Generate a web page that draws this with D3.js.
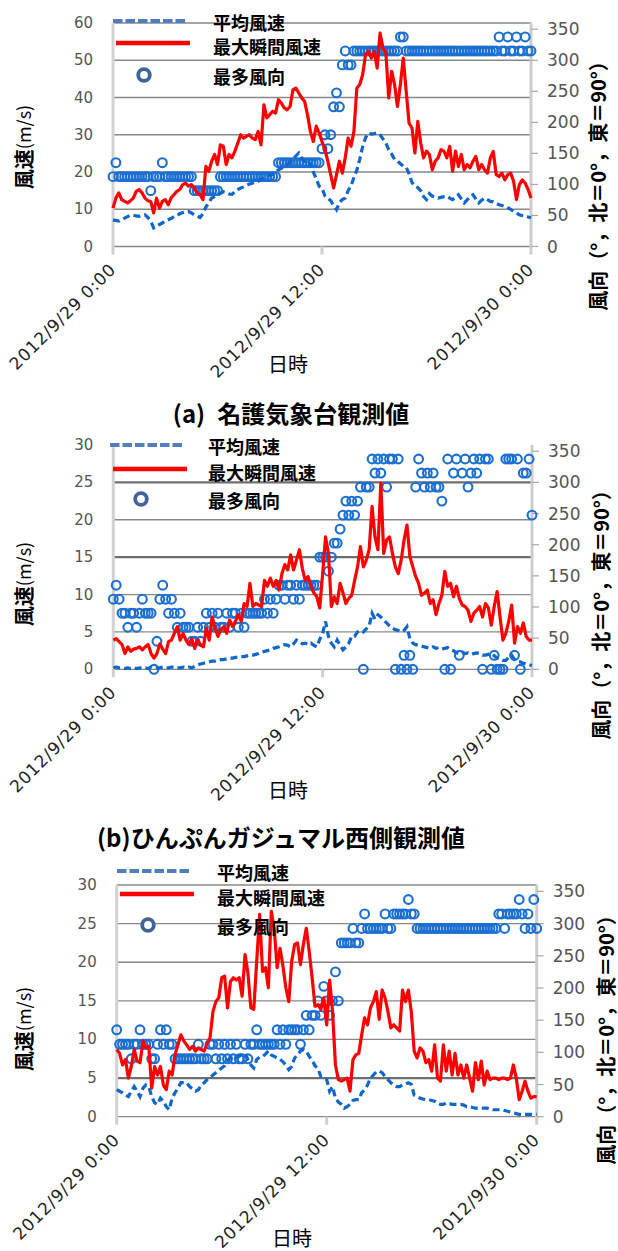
<!DOCTYPE html>
<html>
<head>
<meta charset="utf-8">
<script src="https://cdn.jsdelivr.net/npm/d3@7"></script>
<style>
  html, body { margin: 0; padding: 0; background: #fff; }
  svg { display: block; }
</style>
</head>
<body>
<svg id="chart" width="618" height="1251"></svg>
<script>
// 10-minute observations from 2012/9/29 0:00 to 2012/9/30 0:00
const startTime = new Date(2012, 8, 29, 0, 0);
const stepMinutes = 10;
const pointCount = 145;
const times = d3.range(pointCount).map(i => new Date(startTime.getTime() + i * stepMinutes * 60000));

const timeTicks = [new Date(2012, 8, 29, 0, 0), new Date(2012, 8, 29, 12, 0), new Date(2012, 8, 30, 0, 0)];
const timeTickLabels = ["2012/9/29 0:00", "2012/9/29 12:00", "2012/9/30 0:00"];
const dirTicks = [0, 50, 100, 150, 200, 250, 300, 350];
const seriesNames = ["平均風速", "最大瞬間風速", "最多風向"];

// (a) Nago meteorological observatory
const nagoMean = [
  7.1, 7.0, 6.8, 7.2, 7.6, 8.0, 8.4, 8.4, 8.2, 8.1,
  8.3, 8.5, 7.8, 6.8, 5.0, 5.5, 5.9, 6.3, 6.9, 7.2,
  7.5, 8.0, 8.3, 8.8, 9.1, 9.3, 9.4, 9.0, 8.5, 8.2,
  7.8, 8.8, 10.6, 11.8, 13.0, 13.4, 13.8, 14.3, 14.7, 14.5,
  14.1, 14.0, 14.8, 15.3, 15.7, 16.0, 16.4, 16.8, 17.0, 17.3,
  17.5, 18.0, 18.4, 18.8, 19.2, 19.4, 20.0, 20.6, 21.0, 21.5,
  22.0, 22.6, 23.4, 24.3, 25.1, 23.8, 22.9, 23.4, 21.8, 20.0,
  18.2, 16.2, 15.7, 13.6, 12.9, 12.3, 11.0, 9.9, 11.8, 12.6,
  13.0, 15.0, 16.3, 18.5, 20.5, 23.4, 26.8, 29.2, 30.5, 30.2,
  30.3, 30.5, 30.0, 28.9, 27.8, 26.0, 24.8, 23.4, 23.0, 22.2,
  21.6, 21.3, 19.5, 17.2, 16.2, 15.8, 15.0, 13.4, 12.6, 14.2,
  13.5, 13.3, 13.0, 13.2, 13.4, 13.5, 13.0, 12.6, 13.2, 13.9,
  12.8, 11.7, 12.5, 13.4, 13.9, 12.8, 11.7, 12.4, 13.0, 12.6,
  12.1, 12.0, 11.6, 11.2, 11.0, 10.8, 10.4, 10.0, 9.4, 9.0,
  8.5, 8.3, 8.1, 7.9, 7.7
];
const nagoMax = [
  10.3, 13.0, 14.4, 12.6, 12.1, 11.7, 12.3, 13.0, 14.8, 15.3,
  14.4, 13.0, 12.3, 12.1, 9.0, 13.0, 10.3, 12.1, 12.6, 11.2,
  13.0, 13.9, 14.8, 15.3, 16.6, 17.0, 16.2, 16.6, 15.7, 14.4,
  13.9, 12.6, 21.5, 20.2, 22.9, 24.7, 22.0, 27.3, 26.9, 22.0,
  24.7, 23.8, 25.6, 27.8, 30.0, 29.1, 29.6, 30.0, 29.1, 28.7,
  30.9, 27.3, 38.0, 34.5, 35.4, 36.3, 35.8, 39.4, 38.5, 37.2,
  36.7, 37.6, 42.1, 42.5, 41.2, 39.9, 39.0, 35.4, 30.9, 28.2,
  32.3, 30.5, 28.2, 26.0, 22.9, 19.3, 15.7, 19.3, 22.9, 19.7,
  23.8, 29.1, 26.9, 30.9, 42.5, 43.5, 46.1, 51.5, 52.4, 50.6,
  52.4, 47.9, 57.3, 53.3, 52.0, 39.9, 47.0, 43.5, 37.6, 43.5,
  50.6, 41.7, 33.1, 31.8, 25.1, 33.6, 27.8, 23.8, 25.6, 24.7,
  20.6, 22.9, 23.8, 26.0, 25.6, 23.8, 26.9, 20.2, 25.6, 21.5,
  24.7, 20.6, 22.0, 21.1, 22.9, 24.2, 20.6, 22.0, 20.6, 19.7,
  23.8, 25.5, 19.3, 18.8, 19.7, 17.9, 19.3, 19.7, 17.5, 12.6,
  16.6, 17.9, 17.0, 15.3, 13.0
];
const nagoDir = [
  112.5, 135, 112.5, 112.5, 112.5, 112.5, 112.5, 112.5, 112.5, 112.5,
  112.5, 112.5, 112.5, 90, 112.5, 112.5, 112.5, 135, 112.5, 112.5,
  112.5, 112.5, 112.5, 112.5, 112.5, 112.5, 112.5, 112.5, 90, 90,
  90, 90, 90, 90, 90, 90, 90, 112.5, 112.5, 112.5,
  112.5, 112.5, 112.5, 112.5, 112.5, 112.5, 112.5, 112.5, 112.5, 112.5,
  112.5, 112.5, 112.5, 112.5, 112.5, 112.5, 112.5, 135, 135, 135,
  135, 135, 135, 135, 135, 135, 135, 135, 135, 135,
  135, 135, 157.5, 180, 157.5, 180, 225, 247.5, 225, 292.5,
  315, 292.5, 292.5, 315, 315, 315, 315, 315, 315, 315,
  315, 315, 315, 315, 315, 315, 315, 315, 315, 337.5,
  337.5, 315, 315, 315, 315, 315, 315, 315, 315, 315,
  315, 315, 315, 315, 315, 315, 315, 315, 315, 315,
  315, 315, 315, 315, 315, 315, 315, 315, 315, 315,
  315, 315, 315, 337.5, 315, 315, 337.5, 315, 315, 337.5,
  315, 315, 337.5, 315, 315
];

// (b) west side of the Hinpun banyan
const hinpunMean = [
  0.2, 0.3, 0.2, 0.2, 0.1, 0.2, 0.1, 0.2, 0.1, 0.2,
  0.1, 0.2, 0.1, 0.3, 0.2, 0.2, 0.2, 0.3, 0.2, 0.2,
  0.3, 0.3, 0.2, 0.2, 0.3, 0.2, 0.3, 0.2, 0.4, 0.6,
  0.7, 0.8, 0.9, 1.0, 1.1, 1.1, 1.2, 1.3, 1.3, 1.4,
  1.5, 1.5, 1.6, 1.6, 1.7, 1.7, 1.8, 1.9, 1.9, 2.0,
  2.1, 2.3, 2.4, 2.5, 2.6, 2.8, 2.9, 3.0, 3.2, 3.3,
  3.2, 3.0, 3.4, 3.9, 3.7, 3.4, 3.5, 3.3, 3.5, 3.2,
  3.0, 4.0, 4.8, 6.4, 4.4, 3.5, 3.0, 3.9, 3.2, 2.6,
  3.0, 3.5, 4.4, 4.4, 5.0, 5.2, 5.0, 5.4, 5.8, 7.5,
  6.7, 7.3, 7.0, 6.6, 6.2, 5.8, 5.5, 5.3, 5.2, 5.0,
  5.2, 5.7, 4.1, 3.5, 3.3, 3.2, 3.1, 3.0, 2.9, 2.8,
  3.0, 2.8, 2.9, 2.7, 2.8, 2.9, 2.6, 2.5, 2.2, 2.1,
  2.3, 2.1, 2.2, 2.0, 2.1, 2.2, 2.1, 1.9, 1.9, 2.0,
  2.1, 1.8, 1.5, 1.4, 1.2, 1.2, 1.6, 1.9, 1.3, 1.0,
  1.0, 0.8, 0.7, 0.6, 0.5
];
const hinpunMax = [
  3.9, 4.1, 3.7, 3.3, 2.1, 3.0, 2.4, 2.7, 2.8, 3.0,
  2.6, 3.0, 3.3, 2.1, 1.5, 2.1, 3.4, 2.7, 2.1, 3.7,
  3.9, 4.8, 5.7, 3.9, 4.8, 3.9, 3.3, 4.1, 2.8, 3.9,
  3.3, 3.0, 5.5, 3.9, 7.0, 5.5, 4.4, 5.3, 5.7, 4.8,
  6.6, 5.7, 6.4, 7.3, 6.4, 8.8, 8.4, 11.5, 8.4, 8.8,
  8.6, 8.4, 11.9, 11.1, 12.2, 11.1, 11.9, 10.6, 12.8, 14.0,
  13.3, 15.3, 13.3, 14.6, 16.0, 13.5, 11.9, 12.4, 11.1, 10.2,
  9.7, 8.2, 12.8, 17.7, 15.5, 8.4, 9.7, 8.8, 11.5, 10.2,
  8.8, 9.5, 9.9, 11.9, 13.7, 16.4, 13.7, 14.6, 16.0, 21.8,
  17.7, 16.0, 24.9, 15.5, 17.3, 17.7, 15.5, 13.7, 12.8, 14.6,
  17.3, 19.3, 15.1, 13.7, 12.4, 11.5, 9.9, 10.2, 10.6, 8.8,
  9.3, 7.3, 8.8, 9.9, 13.1, 11.1, 11.5, 9.7, 11.1, 9.5,
  8.6, 8.4, 7.9, 6.4, 7.5, 7.9, 8.4, 7.0, 8.8, 8.2,
  5.9, 8.4, 10.4, 7.0, 3.9, 4.8, 6.4, 8.6, 3.5, 5.7,
  4.8, 6.2, 4.4, 3.9, 3.9
];
const hinpunDir = [
  112.5, 135, 112.5, 90, 90, 67.5, 90, 90, 67.5, 90,
  112.5, 90, 90, 90, 0, 45, 112.5, 135, 112.5, 90,
  112.5, 90, 67.5, 90, 67.5, 67.5, 67.5, 45, 45, 67.5,
  45, 67.5, 90, 67.5, 90, 67.5, 90, 67.5, 67.5, 90,
  67.5, 90, 90, 67.5, 90, 67.5, 90, 90, 90, 90,
  90, 90, 112.5, 90, 112.5, 90, 112.5, 135, 135, 112.5,
  135, 135, 112.5, 135, 112.5, 135, 135, 135, 135, 135,
  135, 180, 180, 180, 157.5, 180, 202.5, 202.5, 225, 247.5,
  270, 247.5, 270, 247.5, 270, 292.5, 0, 292.5, 292.5, 337.5,
  315, 337.5, 315, 337.5, 292.5, 337.5, 337.5, 0, 337.5, 0,
  22.5, 0, 22.5, 0, 292.5, 337.5, 315, 292.5, 315, 292.5,
  315, 292.5, 292.5, 270, 0, 337.5, 0, 315, 337.5, 22.5,
  315, 337.5, 292.5, 315, 337.5, 315, 337.5, 0, 337.5, 337.5,
  0, 22.5, 0, 0, 0, 337.5, 337.5, 337.5, 22.5, 337.5,
  0, 315, 315, 337.5, 247.5
];

// third station
const thirdMean = [
  3.5, 3.3, 3.1, 2.8, 2.6, 3.3, 3.9, 3.3, 2.6, 3.7,
  4.1, 3.9, 2.6, 1.8, 1.6, 2.4, 2.0, 1.3, 0.9, 2.4,
  3.1, 3.7, 4.4, 4.4, 4.4, 3.9, 3.6, 3.3, 3.5, 4.1,
  4.4, 4.8, 5.0, 5.4, 5.7, 6.0, 6.3, 6.6, 7.3, 7.6,
  7.6, 7.6, 7.8, 8.1, 8.2, 7.4, 6.7, 6.3, 7.4, 7.7,
  7.8, 8.1, 8.5, 8.0, 7.8, 7.6, 7.4, 7.1, 6.7, 6.1,
  6.5, 7.6, 8.0, 8.5, 8.7, 8.5, 7.8, 7.3, 6.6, 6.2,
  5.2, 5.0, 4.8, 3.3, 3.9, 2.4, 1.9, 1.6, 1.1, 1.3,
  1.6, 2.1, 2.2, 2.2, 3.1, 3.5, 4.1, 5.0, 5.4, 5.8,
  5.9, 5.7, 5.2, 4.8, 4.4, 4.1, 3.9, 3.9, 4.1, 4.2,
  4.4, 4.2, 2.8, 2.6, 2.4, 2.3, 2.2, 2.2, 2.1, 2.0,
  1.7, 1.6, 1.6, 1.8, 1.7, 1.6, 1.6, 1.6, 1.6, 1.5,
  1.3, 1.3, 1.2, 1.1, 1.1, 1.1, 1.1, 1.1, 1.0, 0.9,
  0.9, 0.9, 0.9, 0.8, 0.7, 0.6, 0.5, 0.4, 0.3, 0.3,
  0.3, 0.3, 0.3, 0.3, 0.3
];
const thirdMax = [
  8.7, 8.2, 6.7, 7.4, 5.0, 6.5, 8.7, 7.2, 7.0, 9.8,
  8.9, 9.1, 3.7, 6.5, 5.4, 6.5, 4.1, 3.5, 5.9, 5.4,
  8.0, 9.3, 10.6, 9.8, 9.3, 8.7, 9.1, 8.5, 8.9, 8.7,
  8.5, 9.5, 10.2, 13.6, 14.9, 15.4, 18.0, 18.2, 14.1, 17.5,
  18.0, 17.7, 18.0, 15.6, 21.0, 18.6, 14.1, 13.9, 20.1, 26.2,
  18.8, 19.3, 16.7, 26.6, 24.4, 19.3, 21.8, 19.5, 16.7, 14.9,
  20.1, 22.3, 22.5, 19.7, 22.3, 24.4, 21.4, 18.0, 14.3, 14.5,
  13.9, 15.4, 11.9, 17.7, 13.6, 6.7, 4.8, 4.6, 4.8, 5.0,
  3.3, 7.4, 8.0, 8.2, 10.6, 12.8, 11.9, 14.1, 14.9, 16.2,
  12.6, 16.4, 15.4, 13.6, 11.5, 11.9, 11.5, 11.1, 16.4, 14.9,
  16.4, 13.6, 8.5, 7.6, 8.9, 8.5, 7.0, 7.4, 5.9, 9.3,
  5.0, 4.6, 9.3, 5.9, 8.5, 5.4, 8.2, 5.4, 6.7, 5.0,
  6.7, 5.0, 3.3, 7.0, 4.8, 7.2, 4.1, 5.9, 4.8, 5.0,
  5.0, 4.8, 5.0, 5.0, 4.8, 5.0, 6.7, 5.0, 2.2, 3.3,
  4.6, 3.3, 2.4, 2.6, 2.6
];
const thirdDir = [
  135, 112.5, 112.5, 112.5, 112.5, 90, 112.5, 112.5, 135, 112.5,
  112.5, 112.5, 90, 90, 112.5, 135, 112.5, 135, 112.5, 112.5,
  90, 90, 90, 90, 90, 90, 90, 90, 112.5, 90,
  90, 90, 112.5, 112.5, 90, 112.5, 90, 112.5, 90, 112.5,
  90, 112.5, 90, 90, 112.5, 90, 112.5, 112.5, 135, 112.5,
  112.5, 112.5, 112.5, 112.5, 112.5, 135, 112.5, 135, 112.5, 135,
  135, 135, 135, 112.5, 135, 157.5, 135, 157.5, 157.5, 180,
  157.5, 202.5, 180, 157.5, 180, 225, 180, 270, 270, 270,
  270, 292.5, 270, 270, 292.5, 315, 292.5, 292.5, 292.5, 292.5,
  292.5, 292.5, 315, 292.5, 292.5, 315, 315, 315, 315, 315,
  337.5, 315, 315, 292.5, 292.5, 292.5, 292.5, 292.5, 292.5, 292.5,
  292.5, 292.5, 292.5, 292.5, 292.5, 292.5, 292.5, 292.5, 292.5, 292.5,
  292.5, 292.5, 292.5, 292.5, 292.5, 292.5, 292.5, 292.5, 292.5, 292.5,
  292.5, 315, 315, 292.5, 315, 315, 315, 315, 337.5, 315,
  292.5, 315, 292.5, 337.5, 292.5
];

// layout of each panel
const panels = [
  {
    left: 113, right: 531, top: 23, bottom: 246.5,
    speedMax: 60, speedStep: 10, strongGrid: [],
    mean: nagoMean, max: nagoMax, dir: nagoDir,
    legend: { x: 113, y: [21, 43, 75], textX: 213 },
    speedTitle: [23, 147], dirTitle: [597, 181], timeTitle: [288, 363],
    caption: { x: 291, y: 412, parts: ["(a)", "名護気象台観測値"], gap: 12 }
  },
  {
    left: 113.3, right: 532, top: 445, bottom: 669.3,
    speedMax: 30, speedStep: 5, strongGrid: [25, 15], noTopGrid: true,
    mean: hinpunMean, max: hinpunMax, dir: hinpunDir,
    legend: { x: 110, y: [445, 469, 499], textX: 208 },
    speedTitle: [23, 584], dirTitle: [600, 610], timeTitle: [288, 789],
    caption: { x: 281, y: 836, parts: ["(b)ひんぷんガジュマル西側観測値"], gap: 0 }
  },
  {
    left: 116.7, right: 536.7, top: 885, bottom: 1116.7,
    speedMax: 30, speedStep: 5, strongGrid: [5],
    mean: thirdMean, max: thirdMax, dir: thirdDir,
    legend: { x: 117, y: [871, 894, 925], textX: 217 },
    speedTitle: [23, 1029], dirTitle: [605, 1035], timeTitle: [292, 1237],
    caption: null
  }
];

const CJK = "'Noto Sans CJK JP', 'Noto Sans CJK SC', sans-serif";
const NUM = "'DejaVu Sans', 'Liberation Sans', sans-serif";
const meanColor = "#0f67cc";
const maxColor = "#ff0000";
const dirColor = "#1b6fd2";

const svg = d3.select("#chart");

panels.forEach(p => {
  const g = svg.append("g");
  const x = d3.scaleTime().domain([timeTicks[0], timeTicks[2]]).range([p.left, p.right]);
  const ySpeed = d3.scaleLinear().domain([0, p.speedMax]).range([p.bottom, p.top]);
  const yDir = d3.scaleLinear().domain([0, 360]).range([p.bottom, p.top]);
  const speedTicks = d3.range(0, p.speedMax + 0.001, p.speedStep);

  // horizontal gridlines on the speed axis
  g.append("g").selectAll("line")
    .data(speedTicks.filter(v => !(p.noTopGrid && v === p.speedMax)))
    .join("line")
    .attr("x1", p.left).attr("x2", p.right)
    .attr("y1", d => ySpeed(d)).attr("y2", d => ySpeed(d))
    .attr("stroke", d => p.strongGrid.includes(d) ? "#6e6e6e" : "#888")
    .attr("stroke-width", d => p.strongGrid.includes(d) ? 2.2 : 1.3);

  // axis lines
  g.append("line").attr("x1", p.left).attr("x2", p.left)
    .attr("y1", p.top).attr("y2", p.bottom + 1)
    .attr("stroke", "#d2d2d2").attr("stroke-width", 3);
  g.append("line").attr("x1", p.right).attr("x2", p.right)
    .attr("y1", p.top).attr("y2", p.bottom + 1)
    .attr("stroke", "#cdcdcd").attr("stroke-width", 3);

  // time ticks
  g.append("g").selectAll("line").data(timeTicks).join("line")
    .attr("x1", d => x(d)).attr("x2", d => x(d))
    .attr("y1", p.bottom).attr("y2", p.bottom + 8)
    .attr("stroke", "#cfcfcf").attr("stroke-width", 3);

  // direction axis ticks
  g.append("g").selectAll("line").data(dirTicks).join("line")
    .attr("x1", p.right).attr("x2", p.right + 7)
    .attr("y1", d => yDir(d)).attr("y2", d => yDir(d))
    .attr("stroke", "#a8a8a8").attr("stroke-width", 1.2);

  // speed tick labels
  g.append("g").selectAll("text").data(speedTicks).join("text")
    .attr("x", p.left - 20).attr("y", d => ySpeed(d))
    .attr("text-anchor", "end").attr("dominant-baseline", "central")
    .attr("font-family", NUM).attr("font-size", 15).attr("fill", "#555")
    .text(d => d);

  // direction tick labels
  g.append("g").selectAll("text").data(dirTicks).join("text")
    .attr("x", p.right + 16).attr("y", d => yDir(d))
    .attr("text-anchor", "start").attr("dominant-baseline", "central")
    .attr("font-family", NUM).attr("font-size", 17).attr("fill", "#555")
    .text(d => d);

  // time tick labels, slanted
  g.append("g").selectAll("text").data(timeTicks).join("text")
    .attr("transform", d => `translate(${x(d) + 4},${p.bottom + 24}) rotate(-45)`)
    .attr("text-anchor", "end")
    .attr("font-family", NUM).attr("font-size", 17).attr("letter-spacing", 0.8)
    .attr("fill", "#222")
    .text((d, i) => timeTickLabels[i]);

  // most frequent wind direction
  g.append("g").selectAll("circle").data(p.dir).join("circle")
    .attr("cx", (d, i) => x(times[i])).attr("cy", d => yDir(d))
    .attr("r", 4.4).attr("fill", "none")
    .attr("stroke", dirColor).attr("stroke-width", 2.1);

  // mean wind speed
  g.append("path").datum(p.mean)
    .attr("d", d3.line().x((d, i) => x(times[i])).y(d => ySpeed(d)))
    .attr("fill", "none").attr("stroke", meanColor)
    .attr("stroke-width", 3.2).attr("stroke-dasharray", "7,4");

  // maximum gust speed
  g.append("path").datum(p.max)
    .attr("d", d3.line().x((d, i) => x(times[i])).y(d => ySpeed(d)))
    .attr("fill", "none").attr("stroke", maxColor)
    .attr("stroke-width", 3.2).attr("stroke-linejoin", "round");

  // legend
  const L = p.legend;
  g.append("line").attr("x1", L.x).attr("x2", L.x + 75)
    .attr("y1", L.y[0]).attr("y2", L.y[0])
    .attr("stroke", "#4f7fc0").attr("stroke-width", 4).attr("stroke-dasharray", "9.5,3");
  g.append("line").attr("x1", L.x + 3).attr("x2", L.x + 77)
    .attr("y1", L.y[1]).attr("y2", L.y[1])
    .attr("stroke", maxColor).attr("stroke-width", 4.5);
  g.append("circle").attr("cx", L.x + 31).attr("cy", L.y[2]).attr("r", 5.8)
    .attr("fill", "#fff").attr("stroke", "#3e6595").attr("stroke-width", 3.8);
  g.append("g").selectAll("text").data(seriesNames).join("text")
    .attr("x", L.textX).attr("y", (d, i) => L.y[i] + (i === 1 ? 3 : 1))
    .attr("dominant-baseline", "central")
    .attr("font-family", CJK).attr("font-weight", "bold").attr("font-size", 18)
    .attr("fill", "#000")
    .text(d => d);

  // speed axis title
  const st = g.append("text")
    .attr("transform", `translate(${p.speedTitle[0]},${p.speedTitle[1]}) rotate(-90)`)
    .attr("text-anchor", "middle").attr("dominant-baseline", "central")
    .attr("font-family", CJK).attr("fill", "#000");
  st.append("tspan").attr("font-weight", "bold").attr("font-size", 20).text("風速");
  st.append("tspan").attr("font-size", 18).text("(m/s)");

  // direction axis title
  g.append("text")
    .attr("transform", `translate(${p.dirTitle[0]},${p.dirTitle[1]}) rotate(-90)`)
    .attr("text-anchor", "middle").attr("dominant-baseline", "central")
    .attr("font-family", CJK).attr("font-weight", "bold").attr("font-size", 20)
    .attr("fill", "#000")
    .text("風向（°，北＝0°，東＝90°）");

  // time axis title
  g.append("text")
    .attr("x", p.timeTitle[0]).attr("y", p.timeTitle[1])
    .attr("text-anchor", "middle").attr("dominant-baseline", "central")
    .attr("font-family", CJK).attr("font-size", 20).attr("fill", "#000")
    .text("日時");

  // caption
  if (p.caption) {
    const c = g.append("text")
      .attr("x", p.caption.x).attr("y", p.caption.y)
      .attr("text-anchor", "middle").attr("dominant-baseline", "central")
      .attr("font-family", CJK).attr("font-weight", "bold").attr("font-size", 24)
      .attr("fill", "#000");
    p.caption.parts.forEach((t, i) => {
      c.append("tspan").attr("dx", i > 0 ? p.caption.gap : 0).text(t);
    });
  }
});
</script>
</body>
</html>
